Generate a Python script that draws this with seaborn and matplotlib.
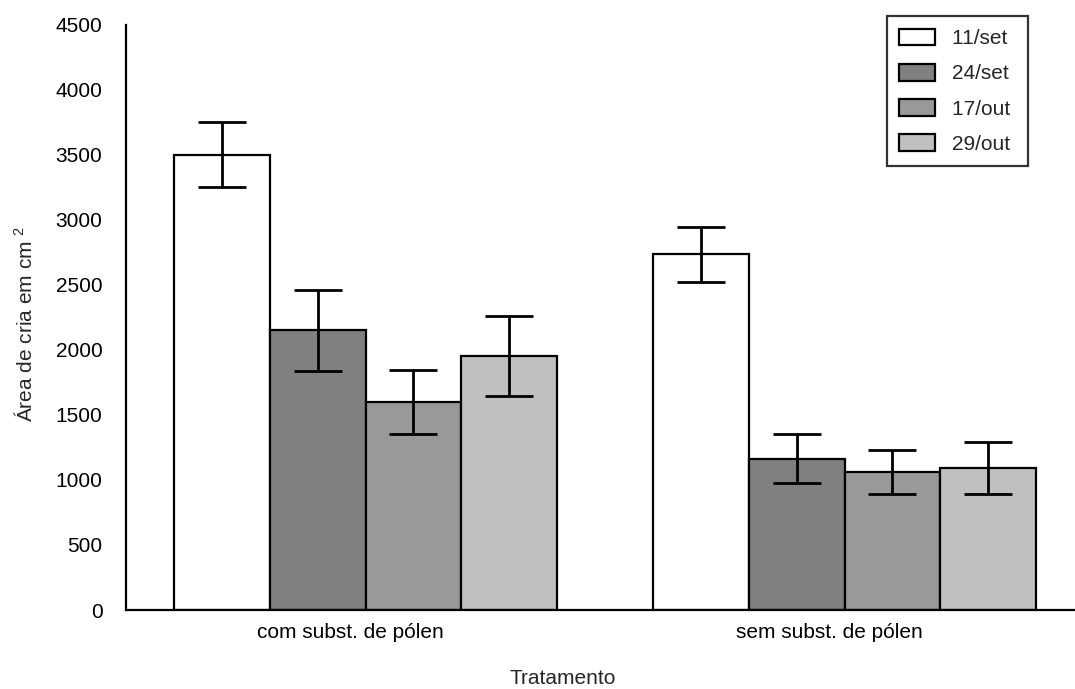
import matplotlib
matplotlib.use("Agg")
import matplotlib.pyplot as plt
import matplotlib.transforms as mtransforms
import seaborn as sns
import pandas as pd

treatments = ["com subst. de pólen", "sem subst. de pólen"]
dates = ["11/set", "24/set", "17/out", "29/out"]
colors = ["#ffffff", "#808080", "#999999", "#c0c0c0"]
# means per date, in treatment order
means = {
    "11/set": [3500, 2735],
    "24/set": [2150, 1165],
    "17/out": [1600, 1060],
    "29/out": [1955, 1095],
}
errors = {
    "11/set": [250, 213],
    "24/set": [310, 188],
    "17/out": [245, 170],
    "29/out": [310, 200],
}
yticks = [0, 500, 1000, 1500, 2000, 2500, 3000, 3500, 4000, 4500]

rows = []
for d in dates:
    for t, m in zip(treatments, means[d]):
        rows.append({"Tratamento": t, "Data": d, "Area": m})
df = pd.DataFrame(rows)

sns.set_style("white")
plt.rcParams["font.family"] = ["Liberation Sans", "DejaVu Sans"]
plt.rcParams["mathtext.fontset"] = "custom"
plt.rcParams["mathtext.rm"] = "Liberation Sans"
plt.rcParams["mathtext.it"] = "Liberation Sans"
plt.rcParams["mathtext.default"] = "rm"
FS = 15
plt.rcParams["font.size"] = FS

fig = plt.figure(figsize=(10.75, 6.89), dpi=100)
ax = fig.add_axes([126 / 1075, 1 - 610 / 689, (1084 - 126) / 1075, 585 / 689])

sns.barplot(data=df, x="Tratamento", y="Area", hue="Data", order=treatments,
            hue_order=dates, palette=colors, edgecolor="black", linewidth=1.6,
            errorbar=None, width=0.8, saturation=1, ax=ax)

for cont, d in zip(ax.containers, dates):
    xs = [b.get_x() + b.get_width() / 2 for b in cont]
    ax.errorbar(xs, means[d], yerr=errors[d], fmt="none", ecolor="black",
                elinewidth=2, capsize=17.5, capthick=2, zorder=5)

ax.set_ylim(0, 4500)
ax.set_xlim(-0.5, 1.5)
ax.set_yticks(yticks)
ax.set_yticklabels([str(v) for v in yticks])

sns.despine(ax=ax)
for s in ["left", "bottom"]:
    ax.spines[s].set_linewidth(1.6)
    ax.spines[s].set_color("black")

ax.tick_params(axis="y", direction="in", length=3, width=1.4, pad=17, labelsize=FS, colors="black")
ax.tick_params(axis="x", which="major", length=0, pad=9, labelsize=FS, colors="black")
ax.set_xticks([0.5], minor=True)
ax.tick_params(axis="x", which="minor", direction="in", length=3, width=1.2)

shift = mtransforms.ScaledTranslation(-15 / 100, 0, fig.dpi_scale_trans)
for lbl in ax.get_xticklabels():
    lbl.set_transform(lbl.get_transform() + shift)

ax.set_xlabel("Tratamento", fontsize=FS)
ax.xaxis.set_label_coords((563 - 126) / 958, -(679 - 610) / 585)
ax.xaxis.label.set_va("center")
ax.set_ylabel(r"Área de cria em cm $^{2}$", fontsize=FS)
ax.yaxis.set_label_coords((25 - 126) / 958, 0.49)
ax.yaxis.label.set_va("center")

handles, labels = ax.get_legend_handles_labels()
ax.legend_.remove()
leg = ax.legend(handles, [l + " " for l in labels], loc="upper right",
                bbox_to_anchor=(1028 / 1075, 1 - 16 / 689), bbox_transform=fig.transFigure,
                frameon=True, fancybox=False, edgecolor="black", fontsize=FS,
                handlelength=1.7, handleheight=0.87, labelspacing=0.75,
                borderpad=0.6, handletextpad=0.8, borderaxespad=0)
leg.get_frame().set_linewidth(1.6)

fig.savefig("out.png", dpi=100)
